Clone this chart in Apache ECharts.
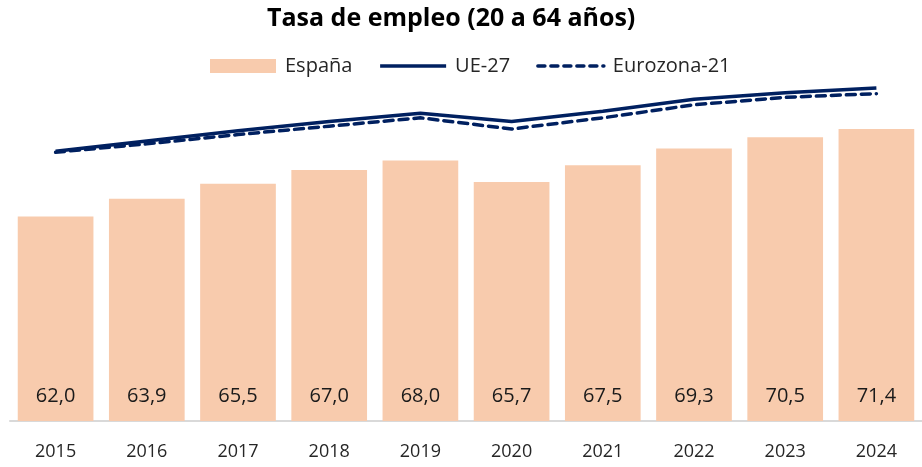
<!DOCTYPE html>
<html>
<head>
<meta charset="utf-8">
<script src="https://cdn.jsdelivr.net/npm/echarts@6/dist/echarts.min.js"></script>
<style>
html,body{margin:0;padding:0;background:#fff;}
#chart{width:922px;height:467px;}
</style>
</head>
<body>
<div id="chart"></div>
<script>
const years = ['2015','2016','2017','2018','2019','2020','2021','2022','2023','2024'];
const espana = [62.0,63.9,65.5,67.0,68.0,65.7,67.5,69.3,70.5,71.4];
const ue27 = [69.0,70.1,71.2,72.2,73.1,72.2,73.3,74.6,75.3,75.8];
const eurozona21 = [68.9,69.8,70.8,71.7,72.6,71.4,72.6,74.0,74.8,75.2];

const FONT = '"Open Sans", "Noto Sans", sans-serif';
const chart = echarts.init(document.getElementById('chart'), null, {renderer:'canvas'});
chart.setOption({
  animation: false,
  backgroundColor: '#ffffff',
  title: {
    text: 'Tasa de empleo (20 a 64 años)',
    left: 262,
    top: 1,
    textStyle: {fontFamily: FONT, fontWeight: 'bold', fontSize: 25, color: '#000'}
  },
  legend: {
    top: 51,
    left: 205,
    itemWidth: 66,
    itemHeight: 14,
    itemGap: 26,
    textStyle: {fontFamily: FONT, fontSize: 20, color: '#262626', padding: [0,0,0,4]},
    data: [
      {name: 'España', icon: 'rect'},
      {name: 'UE-27', itemStyle: {opacity: 0}, lineStyle: {width: 3.5}},
      {name: 'Eurozona-21', itemStyle: {opacity: 0}, lineStyle: {width: 3.5, type: [7, 6]}}
    ]
  },
  grid: {left: 10, right: -12, top: 49, bottom: 46, containLabel: false},
  xAxis: {
    type: 'category',
    data: years,
    axisLine: {lineStyle: {color: '#d9d9d9', width: 2}},
    axisTick: {show: false},
    axisLabel: {fontFamily: FONT, fontSize: 18, color: '#262626', margin: 22}
  },
  yAxis: {
    type: 'value',
    min: 40,
    max: 80,
    show: false,
    splitLine: {show: false}
  },
  series: [
    {
      name: 'España',
      type: 'bar',
      data: espana,
      barWidth: '83%',
      itemStyle: {color: '#F8CBAD'},
      label: {
        show: true,
        position: 'insideBottom',
        distance: 15,
        fontFamily: FONT,
        fontSize: 20,
        color: '#1a1a1a',
        formatter: p => p.value.toFixed(1).replace('.', ',')
      }
    },
    {
      name: 'UE-27',
      type: 'line',
      data: ue27,
      symbol: 'none',
      lineStyle: {color: '#002060', width: 3.5},
      itemStyle: {color: '#002060'},
      z: 3
    },
    {
      name: 'Eurozona-21',
      type: 'line',
      data: eurozona21,
      symbol: 'none',
      lineStyle: {color: '#002060', width: 3.5, type: [9, 6], cap: 'round'},
      itemStyle: {color: '#002060'},
      z: 4
    }
  ]
});
</script>
</body>
</html>
